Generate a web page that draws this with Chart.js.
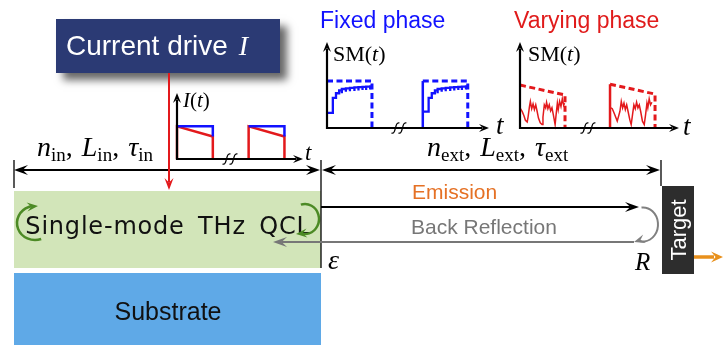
<!DOCTYPE html>
<html>
<head>
<meta charset="utf-8">
<script src="https://cdn.jsdelivr.net/npm/chart.js@4.4.1/dist/chart.umd.min.js"></script>
<style>
  html, body { margin: 0; padding: 0; background: #fff; }
  #stage { position: relative; width: 723px; height: 345px; overflow: hidden; }
  #stage canvas { position: absolute; }
</style>
</head>
<body>
<div id="stage">
  <canvas id="scheme" width="723" height="345" style="left:0;top:0"></canvas>
  <canvas id="drive"></canvas>
  <canvas id="fixed"></canvas>
  <canvas id="varying"></canvas>
</div>
<script>
// ---- Drive current I(t): ideal (flat) and drooping pulses ----
const driveIdealT1 = [0, 1, 1];
const driveIdealI1 = [1, 1, 0.69];
const driveIdealT2 = [2, 3, 3];
const driveIdealI2 = [1, 1, 0.69];
const driveRealT1 = [0, 0, 1, 1];
const driveRealI1 = [0, 1, 0.69, 0];
const driveRealT2 = [2, 2, 3, 3];
const driveRealI2 = [0, 1, 0.69, 0];

// ---- Self-mixing signal, fixed phase ----
const fixedEnvT1 = [0, 1, 1];
const fixedEnvV1 = [1, 1, 0];
const fixedEdgeT2 = [2.13, 2.13];
const fixedEdgeV2 = [0, 1];
const fixedEnvT2 = [2.13, 3.13, 3.13];
const fixedEnvV2 = [1, 1, 0];
const fixedSmT1 = [0, 0.13, 0.13, 0.2, 0.2, 0.27, 0.27, 0.33, 0.33, 0.33, 0.42, 0.42, 0.42, 0.51, 0.51, 0.51,
                   0.61, 0.61, 0.61, 0.70, 0.70, 0.70, 0.79, 0.79, 0.79, 0.87, 0.87, 0.87, 0.96, 0.96, 0.96, 1.0];
const fixedSmV1 = [0.32, 0.32, 0.64, 0.64, 0.74, 0.74, 0.80, 0.80, 0.74, 0.83, 0.83, 0.77, 0.845, 0.845, 0.78, 0.855,
                   0.855, 0.79, 0.865, 0.865, 0.80, 0.87, 0.87, 0.81, 0.875, 0.875, 0.81, 0.88, 0.88, 0.82, 0.885, 0.885];
const fixedSmT2 = [2.13, 2.26, 2.26, 2.33, 2.33, 2.40, 2.40, 2.46, 2.46, 2.46, 2.55, 2.55, 2.55, 2.64, 2.64, 2.64,
                   2.74, 2.74, 2.74, 2.83, 2.83, 2.83, 2.92, 2.92, 2.92, 3.00, 3.00, 3.00, 3.09, 3.09, 3.09, 3.13];
const fixedSmV2 = [0.35, 0.35, 0.64, 0.64, 0.74, 0.74, 0.80, 0.80, 0.74, 0.83, 0.83, 0.77, 0.845, 0.845, 0.78, 0.855,
                   0.855, 0.79, 0.865, 0.865, 0.80, 0.87, 0.87, 0.81, 0.875, 0.875, 0.81, 0.88, 0.88, 0.82, 0.885, 0.885];

// ---- Self-mixing signal, varying phase ----
const varyEnvT1 = [0, 1, 1];
const varyEnvV1 = [1, 0.77, 0];
const varyEdgeT2 = [2, 2];
const varyEdgeV2 = [0, 1.02];
const varyEnvT2 = [2, 3, 3];
const varyEnvV2 = [1.02, 0.79, 0];
const varySmT1 = [0.01, 0.05, 0.09, 0.12, 0.16, 0.18, 0.21, 0.23, 0.26, 0.29, 0.32, 0.35, 0.38, 0.41, 0.45, 0.49, 0.51,
                  0.54, 0.57, 0.59, 0.62, 0.65, 0.68, 0.71, 0.74, 0.78, 0.80, 0.83, 0.85, 0.88, 0.91, 0.94, 0.97, 0.99];
const varySmV1 = [0.45, 0.38, 0.28, 0.18, 0.14, 0.26, 0.50, 0.62, 0.45, 0.56, 0.43, 0.54, 0.39, 0.23, 0.12, 0.08, 0.25,
                  0.54, 0.47, 0.60, 0.45, 0.54, 0.40, 0.47, 0.31, 0.08, 0.29, 0.58, 0.43, 0.62, 0.50, 0.68, 0.53, 0.58];
const varySmT2 = [2.02, 2.05, 2.09, 2.16, 2.22, 2.25, 2.28, 2.31, 2.34, 2.37, 2.40, 2.44, 2.47, 2.50,
                  2.53, 2.56, 2.59, 2.62, 2.65, 2.68, 2.72, 2.76, 2.79, 2.82, 2.84, 2.87, 2.90, 2.93];
const varySmV2 = [0.47, 0.45, 0.35, 0.16, 0.39, 0.62, 0.47, 0.58, 0.43, 0.54, 0.39, 0.19, 0.08, 0.31,
                  0.54, 0.45, 0.60, 0.47, 0.54, 0.39, 0.16, 0.08, 0.31, 0.58, 0.47, 0.68, 0.54, 0.60];

const SANS = '"Liberation Sans", Arial, sans-serif';
const SERIF = '"Liberation Serif", "Times New Roman", serif';
const BLUE = '#1212ff';
const RED = '#e3191c';

function arrowHead(ctx, x, y, ang, len, half, color) {
  ctx.save();
  ctx.translate(x, y);
  ctx.rotate(ang);
  ctx.fillStyle = color;
  ctx.beginPath();
  ctx.moveTo(0, 0);
  ctx.lineTo(-len, -half);
  ctx.lineTo(-len * 0.62, 0);
  ctx.lineTo(-len, half);
  ctx.closePath();
  ctx.fill();
  ctx.restore();
}

function line(ctx, x1, y1, x2, y2, color, w) {
  ctx.save();
  ctx.strokeStyle = color;
  ctx.lineWidth = w;
  ctx.beginPath();
  ctx.moveTo(x1, y1);
  ctx.lineTo(x2, y2);
  ctx.stroke();
  ctx.restore();
}

// Mixed-font text: each part is [text, font, dy] or a number for extra gap
function runs(ctx, x, y, parts, color) {
  ctx.save();
  ctx.fillStyle = color || '#000';
  ctx.textBaseline = 'alphabetic';
  ctx.textAlign = 'left';
  for (const p of parts) {
    if (typeof p === 'number') { x += p; continue; }
    ctx.font = p[1];
    ctx.fillText(p[0], x, y + (p[2] || 0));
    x += ctx.measureText(p[0]).width;
  }
  ctx.restore();
  return x;
}

function arcArrow(ctx, cx, cy, rx, ry, a0, a1, color, w, tipX, tipY, tipAng) {
  ctx.save();
  ctx.strokeStyle = color;
  ctx.lineWidth = w;
  ctx.beginPath();
  ctx.ellipse(cx, cy, rx, ry, 0, a0, a1, false);
  ctx.stroke();
  ctx.restore();
  arrowHead(ctx, tipX, tipY, tipAng, 11, 4.5, color);
}

function drawScheme(ctx) {
  // Current drive box with drop shadow
  ctx.save();
  ctx.shadowColor = 'rgba(0,0,0,0.6)';
  ctx.shadowBlur = 8;
  ctx.shadowOffsetX = 7;
  ctx.shadowOffsetY = 7;
  ctx.fillStyle = '#2b3a74';
  ctx.fillRect(56, 19, 224, 54);
  ctx.restore();
  runs(ctx, 66, 55, [['Current drive', '28px ' + SANS], 11, ['I', 'italic 28px ' + SERIF]], '#ffffff');

  // Laser ridge and substrate
  ctx.fillStyle = '#d2e5b9';
  ctx.fillRect(14, 191, 307, 77);
  ctx.fillStyle = '#5fa9e7';
  ctx.fillRect(14, 273, 307, 72);

  ctx.save();
  ctx.fillStyle = '#111';
  ctx.textAlign = 'center';
  ctx.font = '24px "DejaVu Sans", Verdana, sans-serif';
  ctx.letterSpacing = '0.8px';
  ctx.wordSpacing = '5px';
  ctx.fillText('Single-mode THz QCL', 168, 234);
  ctx.letterSpacing = '0px';
  ctx.wordSpacing = '0px';
  ctx.font = '25px ' + SANS;
  ctx.fillText('Substrate', 168, 320);
  ctx.restore();

  // Internal round-trip arrows
  const GREEN = '#4c8a25';
  arcArrow(ctx, 35, 223, 18, 17, Math.PI / 2 - 0.35, 3 * Math.PI / 2 - 0.2, GREEN, 2.5, 38, 206, -0.1);
  arcArrow(ctx, 305, 219, 14, 15, -Math.PI / 2 - 0.3, Math.PI / 2 + 0.2, GREEN, 2.5, 296, 234, Math.PI - 0.1);

  // Dimension lines
  const K = '#000';
  line(ctx, 14, 160, 14, 188, K, 1.3);
  line(ctx, 321, 160, 321, 268, K, 1.3);
  line(ctx, 661, 160, 661, 186, K, 1.3);
  line(ctx, 18, 170, 316, 170, K, 2);
  arrowHead(ctx, 14, 170, Math.PI, 14, 5, K);
  arrowHead(ctx, 320, 170, 0, 14, 5, K);
  line(ctx, 326, 170, 656, 170, K, 2);
  arrowHead(ctx, 322, 170, Math.PI, 14, 5, K);
  arrowHead(ctx, 660, 170, 0, 14, 5, K);

  const it28 = 'italic 28px ' + SERIF, rm28 = '28px ' + SERIF, sub = '19px ' + SERIF;
  runs(ctx, 37, 156, [['n', it28], ['in', sub, 5], [',', rm28], 9, ['L', it28], ['in', sub, 5], [',', rm28], 9, ['\u03C4', it28], ['in', sub, 5]]);
  runs(ctx, 427, 156, [['n', it28], ['ext', sub, 5], [',', rm28], 9, ['L', it28], ['ext', sub, 5], [',', rm28], 9, ['\u03C4', it28], ['ext', sub, 5]]);

  // Drive current feed
  line(ctx, 169, 73, 169, 182, RED, 2);
  arrowHead(ctx, 169, 190, Math.PI / 2, 12, 4.5, RED);

  // Emission and back reflection paths
  line(ctx, 321, 207, 630, 207, K, 2);
  arrowHead(ctx, 639, 207, 0, 14, 5, K);
  line(ctx, 634, 242, 282, 242, '#777', 2);
  arrowHead(ctx, 273, 242, Math.PI, 14, 5, '#777');
  arcArrow(ctx, 643, 224.5, 15, 17, -Math.PI / 2 - 0.1, Math.PI / 2 + 0.35, '#808080', 2, 634, 242, Math.PI - 0.3);

  runs(ctx, 412, 199, [['Emission', '21px ' + SANS]], '#e57125');
  runs(ctx, 411, 234, [['Back Reflection', '21px ' + SANS]], '#777777');
  runs(ctx, 328, 269, [['\u03B5', 'italic 28px ' + SERIF]]);
  runs(ctx, 635, 270, [['R', 'italic 25px ' + SERIF]]);

  // Target
  ctx.fillStyle = '#2d2d2d';
  ctx.fillRect(662, 186, 32, 88);
  ctx.save();
  ctx.translate(679, 230);
  ctx.rotate(-Math.PI / 2);
  ctx.fillStyle = '#fff';
  ctx.font = '22px ' + SANS;
  ctx.textAlign = 'center';
  ctx.textBaseline = 'middle';
  ctx.fillText('Target', 0, 1);
  ctx.restore();
  line(ctx, 694, 257, 714, 257, '#e8901c', 3.5);
  arrowHead(ctx, 723, 257, 0, 12, 5.5, '#e8901c');

  // Panel titles
  runs(ctx, 320, 28, [['Fixed phase', '23px ' + SANS]], BLUE);
  runs(ctx, 514, 28, [['Varying phase', '23px ' + SANS]], '#e01b1b');
}

new Chart(document.getElementById('scheme'), {
  type: 'scatter',
  data: { datasets: [] },
  options: {
    responsive: false, animation: false, events: [],
    layout: { padding: 0 },
    plugins: { legend: { display: false }, tooltip: { enabled: false } },
    scales: { x: { display: false, min: 0, max: 1 }, y: { display: false, min: 0, max: 1 } }
  },
  plugins: [{ id: 'scheme', afterDraw(chart) { drawScheme(chart.ctx); } }]
});

// Axes with arrow tips, axis labels and break marks for the small waveform panels
const insetFrame = {
  id: 'insetFrame',
  afterDatasetsDraw(chart, args, o) {
    const { ctx, chartArea: a, scales } = chart;
    line(ctx, a.left, a.bottom + 1, a.left, a.top + 6, '#000', 2.2);
    arrowHead(ctx, a.left, a.top - 1, -Math.PI / 2, 10, 4, '#000');
    line(ctx, a.left - 1, a.bottom, a.right - 6, a.bottom, '#000', 2.2);
    arrowHead(ctx, a.right + 1, a.bottom, 0, 10, 4, '#000');
    // break marks on the time axis
    const bx = scales.x.getPixelForValue(o.breakT), by = a.bottom;
    ctx.save();
    ctx.strokeStyle = '#000';
    ctx.lineWidth = 1.2;
    for (const k of [-1, 1]) {
      const cx = bx + k * 3.5;
      ctx.beginPath();
      ctx.moveTo(cx - 4, by + 5);
      ctx.bezierCurveTo(cx + 1, by + 7, cx - 1, by - 7, cx + 4, by - 5);
      ctx.stroke();
    }
    ctx.restore();
    runs(ctx, a.left + o.yDx, a.top + o.yDy, o.yLabel);
    runs(ctx, a.right + o.tDx, a.bottom + o.tDy, [['t', o.tFont]]);
  }
};

function trace(ts, vs, color, width, dash) {
  return {
    data: ts.map((t, i) => ({ x: t, y: vs[i] })),
    borderColor: color, borderWidth: width, borderDash: dash || [],
    showLine: true, pointRadius: 0, fill: false, tension: 0, clip: false,
    borderCapStyle: 'butt', borderJoinStyle: 'miter'
  };
}

function makeInset(id, box, xMax, yMax, datasets, frame) {
  const pad = 30;
  const cv = document.getElementById(id);
  cv.width = box.r - box.l + 2 * pad;
  cv.height = box.b - box.t + 2 * pad;
  cv.style.left = (box.l - pad) + 'px';
  cv.style.top = (box.t - pad) + 'px';
  new Chart(cv, {
    type: 'scatter',
    data: { datasets },
    options: {
      responsive: false, animation: false, events: [],
      layout: { padding: pad },
      plugins: { legend: { display: false }, tooltip: { enabled: false }, insetFrame: frame },
      scales: {
        x: { type: 'linear', display: false, min: 0, max: xMax },
        y: { type: 'linear', display: false, min: 0, max: yMax }
      }
    },
    plugins: [insetFrame]
  });
}

const dash = [6, 3.5];

makeInset('drive', { l: 177, t: 94, r: 302, b: 159 }, 3.49, 1.99, [
  trace(driveIdealT1, driveIdealI1, BLUE, 2.5),
  trace(driveIdealT2, driveIdealI2, BLUE, 2.5),
  trace(driveRealT1, driveRealI1, RED, 2.5),
  trace(driveRealT2, driveRealI2, RED, 2.5)
], {
  breakT: 1.48, yDx: 6, yDy: 13, tDx: 3, tDy: 1, tFont: 'italic 23px ' + SERIF,
  yLabel: [['I', 'italic 21px ' + SERIF], ['(', '21px ' + SERIF], ['t', 'italic 21px ' + SERIF], [')', '21px ' + SERIF]]
});

makeInset('fixed', { l: 327, t: 43, r: 488, b: 128 }, 3.58, 1.81, [
  trace(fixedEnvT1, fixedEnvV1, BLUE, 3, dash),
  trace(fixedEnvT2, fixedEnvV2, BLUE, 3, dash),
  trace(fixedEdgeT2, fixedEdgeV2, BLUE, 2.5),
  trace(fixedSmT1, fixedSmV1, BLUE, 2.3),
  trace(fixedSmT2, fixedSmV2, BLUE, 2.3)
], {
  breakT: 1.6, yDx: 6, yDy: 18, tDx: 8, tDy: 6, tFont: 'italic 27px ' + SERIF,
  yLabel: [['SM(', '22px ' + SERIF], ['t', 'italic 22px ' + SERIF], [')', '22px ' + SERIF]]
});

makeInset('varying', { l: 520, t: 43, r: 678, b: 128 }, 3.51, 1.98, [
  trace(varyEnvT1, varyEnvV1, RED, 3, dash),
  trace(varyEnvT2, varyEnvV2, RED, 3, dash),
  trace(varyEdgeT2, varyEdgeV2, RED, 2.5),
  trace(varySmT1, varySmV1, RED, 1.5),
  trace(varySmT2, varySmV2, RED, 1.5)
], {
  breakT: 1.51, yDx: 8, yDy: 18, tDx: 5, tDy: 7, tFont: 'italic 27px ' + SERIF,
  yLabel: [['SM(', '22px ' + SERIF], ['t', 'italic 22px ' + SERIF], [')', '22px ' + SERIF]]
});
</script>
</body>
</html>
